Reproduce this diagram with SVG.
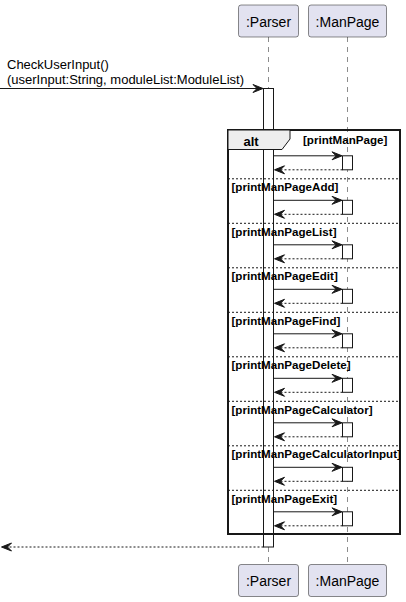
<svg xmlns="http://www.w3.org/2000/svg" width="406" height="602" viewBox="0 0 406 602">
<style>
.part{fill:#E2E2F0;stroke:#181818;stroke-width:0.5}
.ptxt{font-family:"Liberation Sans",Arial,sans-serif;font-size:14px;fill:#000;text-anchor:middle}
.life{stroke:#181818;stroke-width:0.5;stroke-dasharray:5,5;fill:none}
.act{fill:#fff;stroke:#181818;stroke-width:1}
.msg{stroke:#181818;stroke-width:1;fill:none}
.ret{stroke:#181818;stroke-width:1;fill:none;stroke-dasharray:2,2}
.head{fill:#181818;stroke:#181818;stroke-width:1}
.mtxt{font-family:"Liberation Sans",Arial,sans-serif;font-size:13px;fill:#000}
.guard{font-family:"Liberation Sans",Arial,sans-serif;font-size:11.6px;font-weight:bold;fill:#000}
.sep{stroke:#181818;stroke-width:1;stroke-dasharray:2,2}
</style>
<g id="lifelines">
<line class="life" x1="268.5" y1="37" x2="268.5" y2="565"/>
<line class="life" x1="347.5" y1="37" x2="347.5" y2="565"/>
</g>
<g id="parser-top"><rect class="part" x="238.5" y="5" width="60" height="32" rx="2.5"/><text class="ptxt" x="268.5" y="26.5">:Parser</text></g>
<g id="manpage-top"><rect class="part" x="308.5" y="5" width="78" height="32" rx="2.5"/><text class="ptxt" x="347.5" y="26.5">:ManPage</text></g>
<g id="parser-bottom"><rect class="part" x="238.5" y="564.5" width="60" height="32" rx="2.5"/><text class="ptxt" x="268.5" y="586">:Parser</text></g>
<g id="manpage-bottom"><rect class="part" x="308.5" y="564.5" width="78" height="32" rx="2.5"/><text class="ptxt" x="347.5" y="586">:ManPage</text></g>
<g id="parser-activation"><rect class="act" x="263.5" y="88.5" width="10" height="458.5"/></g>
<g id="alt-frame">
<rect x="228" y="130" width="172" height="404" fill="none" stroke="#181818" stroke-width="2"/>
<polygon points="228,130 290,130 290,139 282,149.5 228,149.5" fill="#EEEEEE" stroke="#181818" stroke-width="1"/>
<text x="243.5" y="145.5" font-family="Liberation Sans,Arial,sans-serif" font-size="13" font-weight="bold">alt</text>
<text class="guard" x="303" y="144">[printManPage]</text>
<line class="sep" x1="228" y1="178.8" x2="400" y2="178.8"/>
<text class="guard" x="231.5" y="191.3">[printManPageAdd]</text>
<line class="sep" x1="228" y1="223.3" x2="400" y2="223.3"/>
<text class="guard" x="231.5" y="235.8">[printManPageList]</text>
<line class="sep" x1="228" y1="267.8" x2="400" y2="267.8"/>
<text class="guard" x="231.5" y="280.3">[printManPageEdit]</text>
<line class="sep" x1="228" y1="312.3" x2="400" y2="312.3"/>
<text class="guard" x="231.5" y="324.8">[printManPageFind]</text>
<line class="sep" x1="228" y1="356.8" x2="400" y2="356.8"/>
<text class="guard" x="231.5" y="369.3">[printManPageDelete]</text>
<line class="sep" x1="228" y1="401.3" x2="400" y2="401.3"/>
<text class="guard" x="231.5" y="413.8">[printManPageCalculator]</text>
<line class="sep" x1="228" y1="445.8" x2="400" y2="445.8"/>
<text class="guard" x="231.5" y="458.3">[printManPageCalculatorInput]</text>
<line class="sep" x1="228" y1="490.3" x2="400" y2="490.3"/>
<text class="guard" x="231.5" y="502.8">[printManPageExit]</text>
</g>
<g id="manpage-activations">
<rect class="act" x="342.5" y="155.8" width="10" height="14"/>
<rect class="act" x="342.5" y="200.3" width="10" height="14"/>
<rect class="act" x="342.5" y="244.8" width="10" height="14"/>
<rect class="act" x="342.5" y="289.3" width="10" height="14"/>
<rect class="act" x="342.5" y="333.8" width="10" height="14"/>
<rect class="act" x="342.5" y="378.3" width="10" height="14"/>
<rect class="act" x="342.5" y="422.8" width="10" height="14"/>
<rect class="act" x="342.5" y="467.3" width="10" height="14"/>
<rect class="act" x="342.5" y="511.8" width="10" height="14"/>
</g>
<g id="connectors">
<line class="msg" x1="0" y1="88.5" x2="262" y2="88.5"/>
<polygon class="head" points="263,88.5 253,84.5 257,88.5 253,92.5"/>
<text class="mtxt" x="7" y="69">CheckUserInput()</text>
<text class="mtxt" x="7" y="84">(userInput:String, moduleList:ModuleList)</text>
<g id="calls">
<g transform="translate(0,0)"><line class="msg" x1="273.5" y1="155.8" x2="341" y2="155.8"/><polygon class="head" points="342,155.8 332,151.8 336,155.8 332,159.8"/><line class="ret" x1="342.5" y1="169.8" x2="276" y2="169.8"/><polygon class="head" points="274.5,169.8 284.5,165.8 280.5,169.8 284.5,173.8"/></g>
<g transform="translate(0,44.5)"><line class="msg" x1="273.5" y1="155.8" x2="341" y2="155.8"/><polygon class="head" points="342,155.8 332,151.8 336,155.8 332,159.8"/><line class="ret" x1="342.5" y1="169.8" x2="276" y2="169.8"/><polygon class="head" points="274.5,169.8 284.5,165.8 280.5,169.8 284.5,173.8"/></g>
<g transform="translate(0,89)"><line class="msg" x1="273.5" y1="155.8" x2="341" y2="155.8"/><polygon class="head" points="342,155.8 332,151.8 336,155.8 332,159.8"/><line class="ret" x1="342.5" y1="169.8" x2="276" y2="169.8"/><polygon class="head" points="274.5,169.8 284.5,165.8 280.5,169.8 284.5,173.8"/></g>
<g transform="translate(0,133.5)"><line class="msg" x1="273.5" y1="155.8" x2="341" y2="155.8"/><polygon class="head" points="342,155.8 332,151.8 336,155.8 332,159.8"/><line class="ret" x1="342.5" y1="169.8" x2="276" y2="169.8"/><polygon class="head" points="274.5,169.8 284.5,165.8 280.5,169.8 284.5,173.8"/></g>
<g transform="translate(0,178)"><line class="msg" x1="273.5" y1="155.8" x2="341" y2="155.8"/><polygon class="head" points="342,155.8 332,151.8 336,155.8 332,159.8"/><line class="ret" x1="342.5" y1="169.8" x2="276" y2="169.8"/><polygon class="head" points="274.5,169.8 284.5,165.8 280.5,169.8 284.5,173.8"/></g>
<g transform="translate(0,222.5)"><line class="msg" x1="273.5" y1="155.8" x2="341" y2="155.8"/><polygon class="head" points="342,155.8 332,151.8 336,155.8 332,159.8"/><line class="ret" x1="342.5" y1="169.8" x2="276" y2="169.8"/><polygon class="head" points="274.5,169.8 284.5,165.8 280.5,169.8 284.5,173.8"/></g>
<g transform="translate(0,267)"><line class="msg" x1="273.5" y1="155.8" x2="341" y2="155.8"/><polygon class="head" points="342,155.8 332,151.8 336,155.8 332,159.8"/><line class="ret" x1="342.5" y1="169.8" x2="276" y2="169.8"/><polygon class="head" points="274.5,169.8 284.5,165.8 280.5,169.8 284.5,173.8"/></g>
<g transform="translate(0,311.5)"><line class="msg" x1="273.5" y1="155.8" x2="341" y2="155.8"/><polygon class="head" points="342,155.8 332,151.8 336,155.8 332,159.8"/><line class="ret" x1="342.5" y1="169.8" x2="276" y2="169.8"/><polygon class="head" points="274.5,169.8 284.5,165.8 280.5,169.8 284.5,173.8"/></g>
<g transform="translate(0,356)"><line class="msg" x1="273.5" y1="155.8" x2="341" y2="155.8"/><polygon class="head" points="342,155.8 332,151.8 336,155.8 332,159.8"/><line class="ret" x1="342.5" y1="169.8" x2="276" y2="169.8"/><polygon class="head" points="274.5,169.8 284.5,165.8 280.5,169.8 284.5,173.8"/></g>
</g>
<line class="ret" x1="263.5" y1="547" x2="3" y2="547"/>
<polygon class="head" points="1.5,547 11.5,543 7.5,547 11.5,551"/>
</g>
</svg>
